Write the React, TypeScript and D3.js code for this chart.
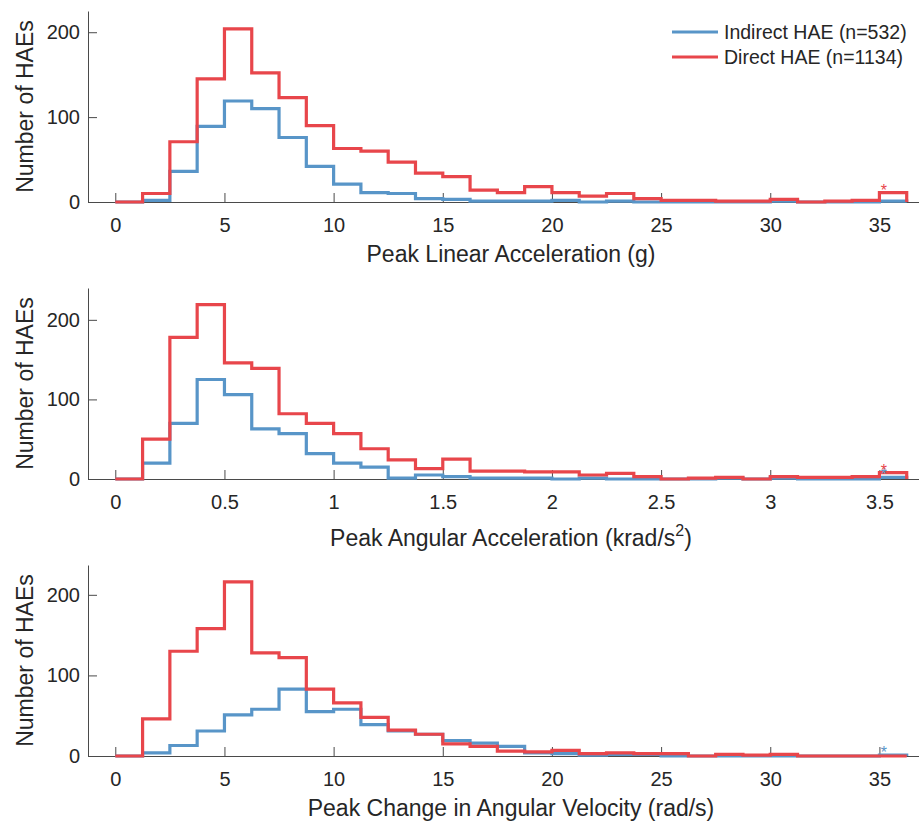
import React, { useEffect, useRef } from 'react'
import * as d3 from 'd3'

// counts per bin (29 bins, last bin holds everything above it)
const linearIndirect = [0, 2, 36, 89, 119, 110, 76, 42, 21, 11, 10, 4, 3, 1, 1, 1, 2, 0, 1, 0, 0, 0, 0, 0, 1, 0, 0, 0, 1]
const linearDirect = [0, 10, 71, 145, 204, 152, 123, 90, 63, 60, 47, 34, 30, 14, 11, 18, 11, 7, 10, 4, 2, 2, 1, 1, 3, 0, 1, 2, 11]
const angularIndirect = [0, 20, 70, 125, 106, 63, 57, 32, 20, 15, 1, 5, 3, 1, 1, 1, 0, 1, 0, 0, 0, 0, 1, 0, 1, 0, 0, 0, 2]
const angularDirect = [0, 50, 178, 219, 146, 139, 82, 70, 57, 38, 24, 13, 25, 10, 10, 9, 9, 5, 7, 3, 0, 1, 2, 0, 3, 2, 2, 3, 8]
const velocityIndirect = [0, 4, 13, 31, 51, 58, 83, 55, 58, 39, 31, 27, 19, 16, 12, 4, 3, 1, 2, 2, 0, 0, 0, 0, 0, 0, 0, 0, 1]
const velocityDirect = [0, 46, 130, 158, 216, 128, 122, 83, 66, 48, 32, 27, 15, 12, 6, 5, 7, 3, 4, 3, 3, 0, 2, 1, 2, 0, 0, 0, 0]

const binWidths = [1.25, 0.125, 1.25]
const yMaxes = [225, 240, 237]
const xTicksLinear = [0, 5, 10, 15, 20, 25, 30, 35]
const xTicksAngular = [0, 0.5, 1, 1.5, 2, 2.5, 3, 3.5]
const yTicks = [0, 100, 200]
const xLabels = ['Peak Linear Acceleration (g)', 'Peak Angular Acceleration (krad/s', 'Peak Change in Angular Velocity (rad/s)']
const legendLabels = ['Indirect HAE (n=532)', 'Direct HAE (n=1134)']
// which series get the overflow star: [indirect, direct]
const starFlags = [[false, true], [true, true], [true, false]]

const BLUE = '#5895c8'
const RED = '#e8464b'
const FONT = '"Liberation Sans", Arial, Helvetica, sans-serif'
const TEXT = '#262626'

const App = () => {
  const svgRef = useRef<SVGSVGElement>(null)

  useEffect(() => {
    const svg = d3.select(svgRef.current)
    svg.selectAll('*').remove()
    const panels = [
      { ind: linearIndirect, dir: linearDirect, ticks: xTicksLinear },
      { ind: angularIndirect, dir: angularDirect, ticks: xTicksAngular },
      { ind: velocityIndirect, dir: velocityDirect, ticks: xTicksLinear },
    ]

    panels.forEach((p, i) => {
      const bw = binWidths[i]
      const top = 11 + i * 277
      const bottom = top + 191
      const x = d3.scaleLinear().domain([-bw, 30 * bw]).range([88, 934])
      const y = d3.scaleLinear().domain([0, yMaxes[i]]).range([bottom, top])
      const g = svg.append('g')

      const xAxis = g
        .append('g')
        .attr('transform', `translate(0, ${bottom})`)
        .call(d3.axisBottom(x).tickValues(p.ticks).tickSizeInner(-9).tickSizeOuter(0).tickPadding(16).tickFormat((d) => `${d}`))
      const yAxis = g
        .append('g')
        .attr('transform', 'translate(88, 0)')
        .call(d3.axisLeft(y).tickValues(yTicks).tickSizeInner(-9).tickSizeOuter(0).tickPadding(8))
      ;[xAxis, yAxis].forEach((ax) => {
        ax.selectAll('text').attr('fill', TEXT).attr('font-size', 20).attr('font-family', FONT)
        ax.selectAll('line').attr('stroke', '#4a4a4a').attr('stroke-width', 1)
        ax.select('.domain').attr('stroke', '#4a4a4a').attr('stroke-width', 1)
      })

      const line = d3
        .line<[number, number]>()
        .x((d) => x(d[0]))
        .y((d) => y(d[1]))
        .curve(d3.curveStepAfter)
      const stairs = (vals: number[]): [number, number][] => [
        [0, 0],
        ...vals.map((v, k) => [k * bw, v] as [number, number]),
        [vals.length * bw, 0],
      ]
      ;[
        { vals: p.ind, color: BLUE },
        { vals: p.dir, color: RED },
      ].forEach((s) => {
        g.append('path')
          .attr('d', line(stairs(s.vals)))
          .attr('fill', 'none')
          .attr('stroke', s.color)
          .attr('stroke-width', 3.2)
          .attr('stroke-linejoin', 'miter')
      })

      // overflow stars
      ;[p.ind, p.dir].forEach((vals, k) => {
        if (!starFlags[i][k]) return
        g.append('text')
          .attr('x', x(28.16 * bw))
          .attr('y', y(vals[vals.length - 1]) + 3)
          .attr('text-anchor', 'middle')
          .attr('font-family', FONT)
          .attr('font-size', 16)
          .attr('fill', k === 0 ? BLUE : RED)
          .text('*')
      })

      g.append('text')
        .attr('transform', `translate(33, ${(top + bottom) / 2}) rotate(-90)`)
        .attr('text-anchor', 'middle')
        .attr('font-family', FONT)
        .attr('font-size', 23)
        .attr('fill', TEXT)
        .text('Number of HAEs')

      const xl = g
        .append('text')
        .attr('x', 511)
        .attr('y', bottom + (i === 1 ? 67 : 60))
        .attr('text-anchor', 'middle')
        .attr('font-family', FONT)
        .attr('font-size', 23)
        .attr('fill', TEXT)
        .text(xLabels[i])
      if (i === 1) {
        xl.append('tspan').attr('font-size', 16).attr('dy', -10).text('2')
        xl.append('tspan').attr('dy', 10).text(')')
      }

      if (i === 0) {
        const lg = g.append('g')
        legendLabels.forEach((lab, k) => {
          const ly = 32 + k * 25
          lg.append('line')
            .attr('x1', 672)
            .attr('x2', 718)
            .attr('y1', ly)
            .attr('y2', ly)
            .attr('stroke', k === 0 ? BLUE : RED)
            .attr('stroke-width', 3)
          lg.append('text')
            .attr('x', 724)
            .attr('y', ly)
            .attr('dy', '0.35em')
            .attr('font-family', FONT)
            .attr('font-size', 19.5)
            .attr('fill', TEXT)
            .text(lab)
        })
      }
    })
  }, [])

  return (
    <svg
      ref={svgRef}
      width={919}
      height={823}
      style={{ position: 'absolute', left: 0, top: 0, background: '#fff' }}
    />
  )
}

export default App
